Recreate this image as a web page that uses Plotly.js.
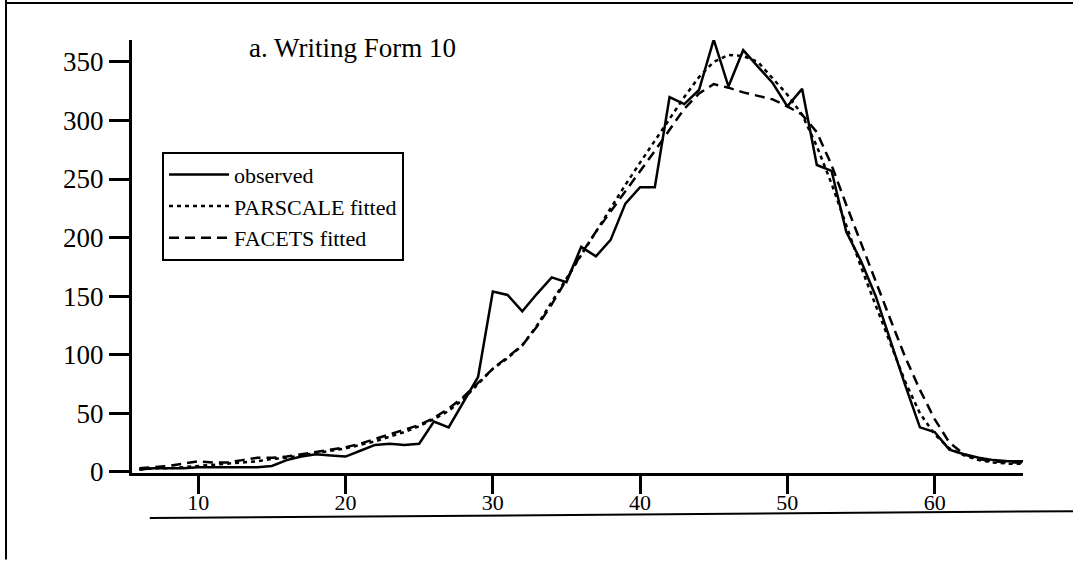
<!DOCTYPE html>
<html>
<head>
<meta charset="utf-8">
<script src="https://cdn.plot.ly/plotly-3.0.1.min.js"></script>
<style>
  html, body { margin: 0; padding: 0; background: #ffffff; }
  #chart { width: 1073px; height: 566px; }
</style>
</head>
<body>
<div id="chart"></div>
<script>
// Score points (x axis)
const scores = [6,7,8,9,10,11,12,13,14,15,16,17,18,19,20,21,22,23,24,25,26,27,28,29,30,31,32,33,34,35,36,
                37,38,39,40,41,42,43,44,45,46,47,48,49,50,51,52,53,54,55,56,57,58,59,60,61,62,63,64,65,66];

// Observed frequencies
const observed = [2,3,3,3,4,4,4,4,4,5,10,13,15,14,13,18,23,24,23,24,43,38,60,81,154,151,137,152,166,162,192,
                  184,198,229,243,243,320,314,326,369,329,360,346,332,312,327,262,257,205,180,150,112,74,38,34,19,15,12,10,9,9];

// PARSCALE fitted frequencies
const parscale = [2,3,3,4,5,6,7,8,9,11,12,14,16,18,20,23,26,30,34,39,45,52,62,75,88,97,108,125,145,166,186,
                  206,225,245,264,283,302,320,337,350,356,355,350,336,322,305,278,246,210,175,142,110,77,50,32,20,14,10,8,7,7];

// FACETS fitted frequencies
const facets = [3,4,5,7,9,8,8,10,12,12,13,15,17,19,21,24,28,32,36,40,46,54,64,76,88,98,108,124,143,164,186,
                205,222,240,256,274,292,310,323,331,328,324,321,318,312,305,290,262,228,195,163,130,98,70,45,25,15,11,9,8,8];

const seriesNames = ['observed', 'PARSCALE fitted', 'FACETS fitted'];
const xTicks = [10,20,30,40,50,60];
const yTicks = [0,50,100,150,200,250,300,350];
const panelTitle = 'a. Writing Form 10';

const serif = 'Liberation Serif, Times New Roman, serif';

const traces = [
  { x: scores, y: observed, name: seriesNames[0], mode: 'lines',
    line: { color: '#000', width: 2.5, dash: 'solid' } },
  { x: scores, y: parscale, name: seriesNames[1], mode: 'lines',
    line: { color: '#000', width: 2.5, dash: '4px,4px' } },
  { x: scores, y: facets, name: seriesNames[2], mode: 'lines',
    line: { color: '#000', width: 2.5, dash: '10px,6px' } }
];

const layout = {
  width: 1073, height: 566,
  margin: { l: 132, r: 50, t: 40, b: 93 },
  paper_bgcolor: '#ffffff', plot_bgcolor: '#ffffff',
  font: { family: serif, size: 20, color: '#000' },
  showlegend: true,
  legend: {
    x: 0.0337, y: 0.742, xanchor: 'left', yanchor: 'top',
    bgcolor: '#ffffff', bordercolor: '#000', borderwidth: 2,
    font: { family: serif, size: 22, color: '#000' },
    itemwidth: 60, tracegroupgap: 0
  },
  xaxis: {
    range: [5.5, 66], tickvals: xTicks, ticktext: xTicks.map(String),
    showgrid: false, zeroline: false, showline: true, linecolor: '#000', linewidth: 3,
    ticks: 'outside', ticklen: 18, tickwidth: 3, tickcolor: '#000',
    ticklabelstandoff: -10,
    tickfont: { family: serif, size: 22, color: '#000' }
  },
  yaxis: {
    range: [-1, 368.7], tickvals: yTicks, ticktext: yTicks.map(String),
    showgrid: false, zeroline: false, showline: true, linecolor: '#000', linewidth: 3,
    ticks: 'outside', ticklen: 20, tickwidth: 3, tickcolor: '#000',
    tickfont: { family: serif, size: 27, color: '#000' }
  },
  annotations: [
    { text: panelTitle, xref: 'paper', yref: 'paper', x: 0.129, y: 0.9815,
      xanchor: 'left', yanchor: 'middle', showarrow: false,
      font: { family: serif, size: 27, color: '#000' } }
  ],
  shapes: [
    { type: 'line', xref: 'paper', yref: 'paper', x0: -0.1414, x1: -0.1414, y0: -0.2, y1: 1.1,
      line: { color: '#000', width: 2 } },
    { type: 'line', xref: 'paper', yref: 'paper', x0: -0.1414, x1: 1.06, y0: 1.0855, y1: 1.0855,
      line: { color: '#000', width: 2 } },
    { type: 'line', xref: 'paper', yref: 'paper', x0: 0.02, x1: 1.06, y0: -0.1042, y1: -0.088,
      line: { color: '#000', width: 2 } }
  ]
};

Plotly.newPlot('chart', traces, layout, { displayModeBar: false, staticPlot: true });
</script>
</body>
</html>
